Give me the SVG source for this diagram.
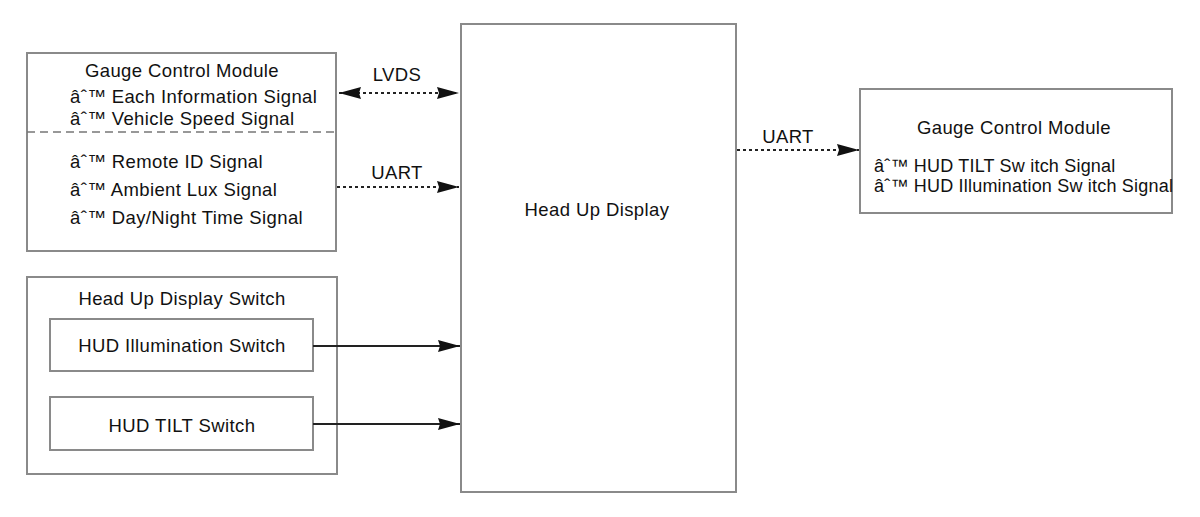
<svg xmlns="http://www.w3.org/2000/svg" width="1200" height="517" viewBox="0 0 1200 517">
<defs>
<style>
.box{fill:#fff;stroke:#8a8a8a;stroke-width:2}
.t{font-family:"Liberation Sans",Arial,sans-serif;font-size:18.5px;letter-spacing:0.4px;fill:#111}
.s{font-size:18px;letter-spacing:0.2px}
.c{text-anchor:middle}
.dot{stroke:#222;stroke-width:2.2;stroke-dasharray:3 3;fill:none}
.sol{stroke:#222;stroke-width:2.2;fill:none}
</style>
<marker id="ah" viewBox="0 0 22 12" refX="22" refY="6" markerWidth="22" markerHeight="12" markerUnits="userSpaceOnUse" orient="auto-start-reverse">
<path d="M0,0 L22,6 L0,12 L2,6 Z" fill="#111"/>
</marker>
</defs>
<rect width="1200" height="517" fill="#fff"/>
<g id="hud">
<rect class="box" x="461" y="24" width="275" height="468"/>
<text class="t c" x="597" y="216">Head Up Display</text>
</g>
<g id="gcm-left">
<rect class="box" x="27" y="53" width="309" height="198"/>
<line x1="27" y1="132" x2="336" y2="132" stroke="#777" stroke-width="1.5" stroke-dasharray="8 5"/>
<text class="t c" x="182" y="77">Gauge Control Module</text>
<text class="t" x="70" y="103">âˆ™ Each Information Signal</text>
<text class="t" x="70" y="125">âˆ™ Vehicle Speed Signal</text>
<text class="t" x="70" y="168">âˆ™ Remote ID Signal</text>
<text class="t" x="70" y="196">âˆ™ Ambient Lux Signal</text>
<text class="t" x="70" y="224">âˆ™ Day/Night Time Signal</text>
</g>
<g id="gcm-right">
<rect class="box" x="860" y="89" width="312" height="124"/>
<text class="t c" x="1014" y="134">Gauge Control Module</text>
<text class="t s" x="874" y="172">âˆ™ HUD TILT Sw itch Signal</text>
<text class="t s" x="874" y="192">âˆ™ HUD Illumination Sw itch Signal</text>
</g>
<g id="hud-switch">
<rect class="box" x="27" y="277" width="310" height="197"/>
<text class="t c" x="182" y="305">Head Up Display Switch</text>
</g>
<g id="illum-switch">
<rect class="box" x="50" y="319" width="263" height="52"/>
<text class="t c" x="182" y="352">HUD Illumination Switch</text>
</g>
<g id="tilt-switch">
<rect class="box" x="50" y="397" width="263" height="53"/>
<text class="t c" x="182" y="432">HUD TILT Switch</text>
</g>
<g id="connectors">
<line class="dot" x1="339" y1="93" x2="459" y2="93" marker-start="url(#ah)" marker-end="url(#ah)"/>
<text class="t c" x="397" y="81">LVDS</text>
<line class="dot" x1="337" y1="187" x2="459" y2="187" marker-end="url(#ah)"/>
<text class="t c" x="397" y="179">UART</text>
<line class="dot" x1="737" y1="150" x2="859" y2="150" marker-end="url(#ah)"/>
<text class="t c" x="788" y="143">UART</text>
<line class="sol" x1="313" y1="346" x2="460" y2="346" marker-end="url(#ah)"/>
<line class="sol" x1="313" y1="424" x2="460" y2="424" marker-end="url(#ah)"/>
</g>
</svg>
